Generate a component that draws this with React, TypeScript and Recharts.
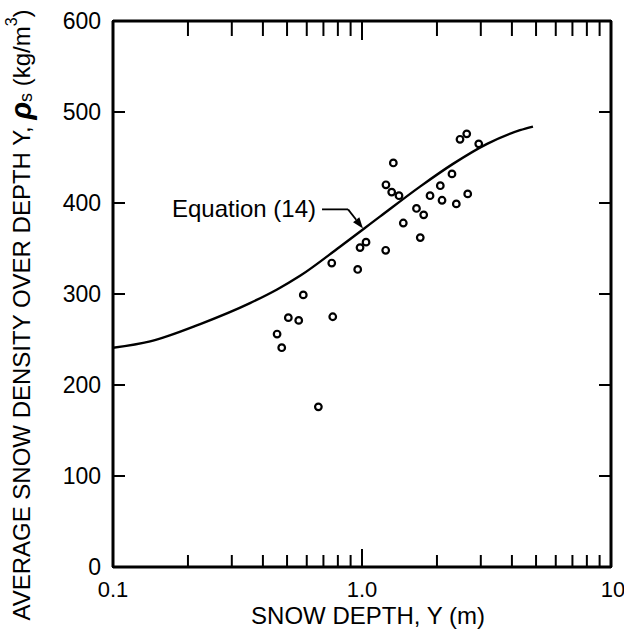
import React from 'react';
import {
  ComposedChart,
  Line,
  Scatter,
  XAxis,
  YAxis,
  ReferenceLine,
} from 'recharts';

// measured snow depth (m) and average density (kg/m3)
const obsDepth = [
  0.456, 0.476, 0.506, 0.557, 0.581, 0.668, 0.756, 0.763, 0.961, 0.982,
  1.038, 1.245, 1.248, 1.316, 1.336, 1.408, 1.465, 1.655, 1.714, 1.769,
  1.876, 2.063, 2.096, 2.298, 2.392, 2.475, 2.634, 2.658, 2.943,
];
const obsDensity = [
  256, 241, 274, 271, 299, 176, 334, 275, 327, 351,
  357, 348, 420, 412, 444, 408, 378, 394, 362, 387,
  408, 419, 403, 432, 399, 470, 476, 410, 465,
];

// Equation (14) curve
const eqDepth = [0.1, 0.141, 0.224, 0.355, 0.456, 0.564, 0.816, 1.18, 1.71, 2.32, 3.18, 4.31, 4.86];
const eqDensity = [241, 248, 267, 290, 305, 320, 352, 385, 418, 443, 465, 480, 484];

const xMajor = [0.1, 1, 10];
const xTicks = [0.1, 0.2, 0.3, 0.4, 0.5, 0.6, 0.7, 0.8, 0.9, 1, 2, 3, 4, 5, 6, 7, 8, 9, 10];
const xLabels: Record<string, string> = { '0.1': '0.1', '1': '1.0', '10': '10' };
const yTicks = [0, 100, 200, 300, 400, 500, 600];
const yInner = [100, 200, 300, 400, 500];

// arrow from label to the curve
const arrowFrom = { x: 0.691, y: 393 };
const arrowBend = { x: 0.879, y: 393 };
const arrowTip = { x: 1.009, y: 372 };

const obs = obsDepth.map((x, i) => ({ x, y: obsDensity[i] }));
const eq = eqDepth.map((x, i) => ({ x, y: eqDensity[i] }));

const FONT = '"Liberation Sans", Arial, Helvetica, sans-serif';
const AXIS_LINE = { stroke: '#000', strokeWidth: 3 };
const TICK_LINE = { stroke: '#000', strokeWidth: 2 };

const NoLabel = () => null;

// inward stubs on both sides of a horizontal reference line
const YStubs = (props: any) => {
  const { x1, x2, y1 } = props;
  const xl = Math.min(x1, x2);
  const xr = Math.max(x1, x2);
  return (
    <g>
      <line x1={xl} y1={y1} x2={xl + 12} y2={y1} stroke="#000" strokeWidth={2} />
      <line x1={xr} y1={y1} x2={xr - 12} y2={y1} stroke="#000" strokeWidth={2} />
    </g>
  );
};

// y arrives at the inner end of the 12px tick
const BottomLabel = (props: any) => {
  const v = Number(props.payload.value);
  const label = xLabels[String(v)];
  if (!label) return null;
  return (
    <text
      x={Number(props.x) + (v === 10 ? 2 : 0)}
      y={Number(props.y) + 12 + 30}
      textAnchor="middle"
      fontSize={22}
      fontFamily={FONT}
      fill="#000"
    >
      {label}
    </text>
  );
};

const LeftLabel = (props: any) => (
  <text
    x={Number(props.x) - 12}
    y={Number(props.y) + 8}
    textAnchor="end"
    fontSize={23}
    fontFamily={FONT}
    fill="#000"
  >
    {props.payload.value}
  </text>
);

const Ring = (props: any) => (
  <circle cx={props.cx} cy={props.cy} r={3.3} fill="#fff" stroke="#000" strokeWidth={2.2} />
);

const LabelLine = (props: any) => (
  <g>
    <line x1={props.x1} y1={props.y1} x2={props.x2} y2={props.y2} stroke="#000" strokeWidth={1.8} />
    <text x={props.x1 - 6} y={props.y1 + 8} textAnchor="end" fontSize={24} fontFamily={FONT} fill="#000">
      Equation (14)
    </text>
  </g>
);

const ArrowLine = (props: any) => {
  const { x1, y1, x2, y2 } = props;
  const a = Math.atan2(y2 - y1, x2 - x1);
  const h = 11;
  const w = 4;
  const bx = x2 - h * Math.cos(a);
  const by = y2 - h * Math.sin(a);
  const px = -Math.sin(a) * w;
  const py = Math.cos(a) * w;
  return (
    <g>
      <line x1={x1} y1={y1} x2={bx} y2={by} stroke="#000" strokeWidth={1.8} />
      <polygon points={`${x2},${y2} ${bx + px},${by + py} ${bx - px},${by - py}`} fill="#000" />
    </g>
  );
};

const YTitle = () => (
  <text
    x={21}
    y={315}
    transform="rotate(-90 21 315)"
    textAnchor="middle"
    dominantBaseline="central"
    fontSize={24}
    fontFamily={FONT}
    fill="#000"
  >
    AVERAGE SNOW DENSITY OVER DEPTH Y,{'  '}
    <tspan fontWeight="bold" fontStyle="italic" fontSize={29}>ρ</tspan>
    <tspan fontSize={18} dy={5}>s</tspan>
    <tspan dy={-5}>{'  '}(kg/m</tspan>
    <tspan fontSize={16} dy={-10}>3</tspan>
    <tspan dy={10}>)</tspan>
  </text>
);

const XTitle = (props: any) => {
  const { viewBox } = props;
  return (
    <text
      x={viewBox.x + viewBox.width / 2 + 6}
      y={viewBox.y + 57}
      textAnchor="middle"
      fontSize={24}
      fontFamily={FONT}
      fill="#000"
    >
      SNOW DEPTH,{'  '}Y (m)
    </text>
  );
};

const logAxis = {
  type: 'number' as const,
  scale: 'log' as const,
  domain: [0.1, 10],
  dataKey: 'x',
  allowDataOverflow: true,
  interval: 0,
  height: 1,
  tickMargin: 0,
  tickLine: TICK_LINE,
};

export default function App() {
  return (
    <div style={{ position: 'fixed', left: 0, top: 0, background: '#fff' }}>
      <ComposedChart width={624} height={631} margin={{ top: 19, right: 12, bottom: 62, left: 112 }}>
        <XAxis
          {...logAxis}
          xAxisId="b"
          ticks={xTicks}
          tickSize={-12}
          tick={<BottomLabel />}
          axisLine={AXIS_LINE}
          label={<XTitle />}
        />
        <XAxis {...logAxis} xAxisId="b2" ticks={xMajor} tickSize={-19} tick={<NoLabel />} axisLine={false} />
        <XAxis
          {...logAxis}
          xAxisId="t"
          orientation="top"
          ticks={xTicks}
          tickSize={-15}
          tick={<NoLabel />}
          axisLine={AXIS_LINE}
        />
        <XAxis {...logAxis} xAxisId="t2" orientation="top" ticks={xMajor} tickSize={-20} tick={<NoLabel />} axisLine={false} />
        <YAxis
          yAxisId="l"
          type="number"
          domain={[0, 600]}
          ticks={yTicks}
          interval={0}
          width={1}
          tickSize={0}
          tickMargin={0}
          tickLine={false}
          tick={<LeftLabel />}
          axisLine={AXIS_LINE}
          label={<YTitle />}
        />
        <YAxis
          yAxisId="r"
          orientation="right"
          type="number"
          domain={[0, 600]}
          ticks={yTicks}
          width={1}
          tickLine={false}
          tick={false}
          axisLine={AXIS_LINE}
        />
        {yInner.map((v) => (
          <ReferenceLine key={`y${v}`} xAxisId="b" yAxisId="l" y={v} shape={YStubs} />
        ))}
        <Line
          xAxisId="b"
          yAxisId="l"
          data={eq}
          dataKey="y"
          type="monotone"
          stroke="#000"
          strokeWidth={2.4}
          dot={false}
          activeDot={false}
          isAnimationActive={false}
        />
        <Scatter
          xAxisId="b"
          yAxisId="l"
          data={obs}
          dataKey="y"
          shape={<Ring />}
          isAnimationActive={false}
        />
        <ReferenceLine
          xAxisId="b"
          yAxisId="l"
          segment={[arrowFrom, arrowBend]}
          shape={<LabelLine />}
        />
        <ReferenceLine
          xAxisId="b"
          yAxisId="l"
          segment={[arrowBend, arrowTip]}
          shape={<ArrowLine />}
        />
      </ComposedChart>
    </div>
  );
}
